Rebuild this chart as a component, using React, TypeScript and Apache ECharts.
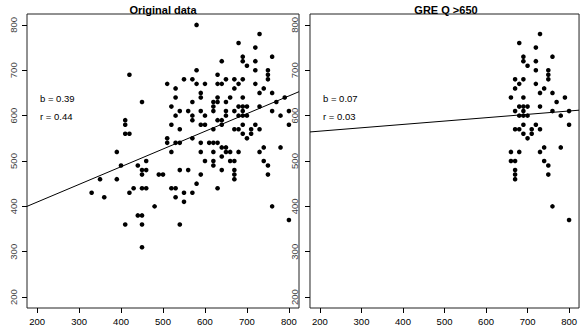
import React, { useEffect, useRef } from "react";
import * as echarts from "echarts";

// GRE Q (x) and outcome score (y)
const greQ = [
  330, 350, 360, 390, 390, 400, 410, 410, 410, 410, 420, 420, 420, 430, 440, 440,
  450, 450, 450, 450, 450, 450, 450, 460, 460, 460, 480, 490, 500,
  510, 510, 510, 520, 520, 520, 520, 530, 530, 530, 530, 530, 530,
  540, 540, 540, 540, 540, 550, 550, 550, 560, 560,
  570, 570, 570, 570, 570, 570, 580, 580, 580, 580,
  590, 590, 590, 590, 590, 590, 590, 600, 600, 600, 600, 610,
  620, 620, 620, 620, 620, 620, 620, 620, 630, 630, 630, 630, 630, 630, 630,
  640, 640, 640, 640, 640, 640, 640, 650, 650, 650, 650, 650, 650,
  660, 660, 660,
  670, 670, 670, 670, 670, 670, 670, 670,
  680, 680, 680, 680, 680, 680,
  690, 690, 690, 690, 690, 690, 690, 690, 690,
  700, 700, 700, 700, 710, 710,
  720, 720, 720, 720, 720,
  730, 730, 730, 730, 730,
  740, 740, 740,
  750, 750, 750, 750, 750,
  760, 760, 760, 760, 770, 780, 780, 790, 800, 800, 800,
];
const score = [
  430, 460, 420, 520, 460, 490, 590, 580, 560, 360, 560, 690, 430, 440, 490, 380,
  630, 480, 470, 440, 380, 360, 310, 500, 480, 440, 400, 470, 470,
  670, 550, 540, 620, 580, 520, 440, 660, 640, 600, 540, 440, 420,
  610, 570, 540, 480, 360, 680, 430, 410, 610, 480,
  680, 630, 600, 590, 550, 430, 800, 700, 670, 450,
  650, 640, 610, 580, 540, 520, 470, 670, 600, 580, 500, 540,
  630, 620, 610, 570, 540, 520, 500, 490, 690, 670, 640, 630, 590, 540, 440,
  720, 670, 590, 580, 530, 510, 480, 680, 630, 610, 600, 530, 520,
  640, 520, 500,
  680, 660, 610, 570, 500, 480, 470, 460,
  760, 670, 620, 600, 570, 520,
  730, 720, 680, 640, 620, 610, 600, 580, 560,
  710, 620, 600, 550, 570, 560,
  750, 720, 700, 670, 580,
  780, 650, 620, 570, 520,
  660, 530, 500,
  700, 690, 680, 490, 470,
  730, 650, 610, 400, 630, 600, 530, 640, 610, 580, 370,
];

const tickValues = [200, 300, 400, 500, 600, 700, 800];
const panelTitles = ["Original data", "GRE Q >650"];
const slopes = [0.39, 0.074];
const intercepts = [331.4, 551];
const statB = ["b = 0.39", "b = 0.07"];
const statR = ["r = 0.44", "r = 0.03"];
const cutoff = 650;
const axisMin = 176;
const axisMax = 824;

export default function App() {
  const ref = useRef<HTMLDivElement>(null);

  useEffect(() => {
    if (!ref.current) return;
    const chart = echarts.init(ref.current, null, { renderer: "svg" });

    const allPts = greQ.map((x, i) => [x, score[i]]);
    const highPts = allPts.filter((p) => p[0] > cutoff);
    const panels = [allPts, highPts];

    const gridLefts = [27, 310];
    const font = '"Liberation Sans", Arial, sans-serif';

    const grids = gridLefts.map((l) => ({
      left: l,
      top: 14,
      width: 272,
      height: 294,
      show: true,
      borderColor: "#222",
      borderWidth: 1,
      backgroundColor: "transparent",
    }));

    const xAxes = [0, 1].map((i) => ({
      type: "value",
      gridIndex: i,
      min: axisMin,
      max: axisMax,
      splitLine: { show: false },
      axisLine: { show: false },
      axisTick: {
        show: true,
        customValues: tickValues,
        length: 5,
        lineStyle: { color: "#000", width: 1 },
      },
      axisLabel: {
        show: true,
        customValues: tickValues,
        fontSize: 9.5,
        color: "#000",
        margin: 8,
        fontFamily: font,
      },
    }));

    const yAxes = [0, 1].map((i) => ({
      type: "value",
      gridIndex: i,
      min: axisMin,
      max: axisMax,
      splitLine: { show: false },
      axisLine: { show: false },
      axisTick: {
        show: true,
        customValues: tickValues,
        length: 5,
        lineStyle: { color: "#000", width: 1 },
      },
      axisLabel: {
        show: true,
        customValues: tickValues,
        rotate: 90,
        fontSize: 9.5,
        color: "#444",
        margin: i === 0 ? 9 : 11,
        fontFamily: font,
      },
    }));

    const series: any[] = [];
    panels.forEach((pts, i) => {
      series.push({
        type: "scatter",
        xAxisIndex: i,
        yAxisIndex: i,
        data: pts,
        symbol: "circle",
        symbolSize: 4.6,
        itemStyle: { color: "#000", opacity: 1 },
        silent: true,
      });
      series.push({
        type: "line",
        xAxisIndex: i,
        yAxisIndex: i,
        data: [
          [axisMin, intercepts[i] + slopes[i] * axisMin],
          [axisMax, intercepts[i] + slopes[i] * axisMax],
        ],
        symbol: "none",
        lineStyle: { color: "#000", width: 1 },
        silent: true,
      });
    });

    const graphics: any[] = [];
    gridLefts.forEach((l, i) => {
      graphics.push({
        type: "text",
        x: l + 136,
        y: 10,
        style: {
          text: panelTitles[i],
          fill: "#000",
          font: `bold 11px ${font}`,
          align: "center",
          verticalAlign: "middle",
        },
      });
      graphics.push({
        type: "text",
        x: l + 13,
        y: 98,
        style: {
          text: statB[i],
          fill: "#000",
          font: `9.5px ${font}`,
          align: "left",
          verticalAlign: "middle",
        },
      });
      graphics.push({
        type: "text",
        x: l + 13,
        y: 116,
        style: {
          text: statR[i],
          fill: "#000",
          font: `9.5px ${font}`,
          align: "left",
          verticalAlign: "middle",
        },
      });
    });

    chart.setOption({
      animation: false,
      backgroundColor: "#fff",
      grid: grids,
      xAxis: xAxes,
      yAxis: yAxes,
      series,
      graphic: graphics,
    });

    return () => chart.dispose();
  }, []);

  return (
    <div
      ref={ref}
      style={{ position: "absolute", left: 0, top: 0, width: 580, height: 330 }}
    />
  );
}
